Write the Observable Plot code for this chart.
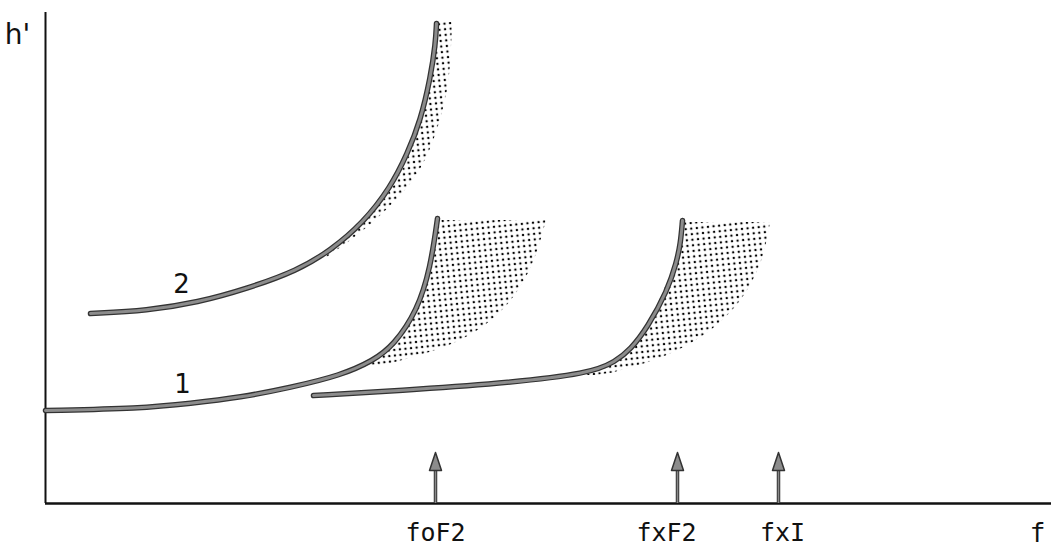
<!DOCTYPE html>
<html>
<head>
<meta charset="utf-8">
<script src="https://cdn.jsdelivr.net/npm/d3@7"></script>
<script src="https://cdn.jsdelivr.net/npm/@observablehq/plot@0.6"></script>
<style>
  html, body { margin: 0; padding: 0; background: #fff; }
  #chart { width: 1051px; height: 549px; }
</style>
</head>
<body>
<div id="chart"></div>
<script>
// Trace 2 (upper F2 trace)
const trace2X = [45, 102, 152, 202, 252, 285, 318, 345, 362, 375, 385, 390, 391];
const trace2Y = [190, 193, 201, 215, 233, 253, 281, 316, 350, 383, 426, 460, 480];
// Trace 1 (ordinary F2 trace)
const trace1X = [0, 95, 145, 195, 245, 295, 328, 348, 372, 385, 392];
const trace1Y = [93, 95, 100, 106, 116, 128, 143, 158, 193, 236, 285];
// Extraordinary trace
const traceXX = [268, 355, 455, 545, 570, 585, 602, 622, 631, 635, 637];
const traceXY = [108, 113, 120, 130, 142, 154, 176, 213, 241, 260, 283];

// Spread (stippled) regions: height, left edge, right edge
const spread2Y  = [245, 273, 300, 326, 360, 393, 426, 481];
const spread2X1 = [272, 310, 337, 355, 369, 379, 385, 390];
const spread2X2 = [280, 320, 348, 372, 388, 398, 405, 407];

const spread1Y  = [138, 146, 156, 173, 196, 226, 253, 283];
const spread1X1 = [317, 335, 347, 359, 373, 382, 388, 392];
const spread1X2 = [338, 368, 402, 435, 462, 482, 493, 501];

const spreadXY  = [128, 130, 133, 140, 153, 173, 200, 230, 253, 281];
const spreadXX1 = [535, 545, 557, 569, 585, 600, 613, 626, 633, 637];
const spreadXX2 = [550, 568, 575, 602, 635, 668, 695, 712, 720, 725];

// Critical frequency markers
const markerNames = ["foF2", "fxF2", "fxI"];
const markerX     = [390, 632, 733];
const markerLabelX = [390, 621, 737];

// Trace number labels
const traceLabels = ["2", "1"];
const traceLabelX = [136, 137];
const traceLabelY = [211, 111];

const pts = (xs, ys) => xs.map((x, i) => ({x, y: ys[i]}));
const band = (ys, x1s, x2s) => ys.map((y, i) => ({y, x1: x1s[i], x2: x2s[i]}));

const traces = [pts(trace2X, trace2Y), pts(trace1X, trace1Y), pts(traceXX, traceXY)];
const spreads = [band(spread2Y, spread2X1, spread2X2), band(spread1Y, spread1X1, spread1X2), band(spreadXY, spreadXX1, spreadXX2)];
const markers = markerNames.map((n, i) => ({name: n, x: markerX[i], lx: markerLabelX[i]}));
const tlabels = traceLabels.map((t, i) => ({t, x: traceLabelX[i], y: traceLabelY[i]}));

const headShape = {
  draw(context, l) {
    context.moveTo(-6, 0);
    context.lineTo(0, -l);
    context.lineTo(6, 0);
    context.closePath();
  }
};

const font = "DejaVu Sans";
const mono = "DejaVu Sans Mono";
const marks = [];
for (const s of spreads) {
  marks.push(Plot.areaX(s, {y: "y", x1: "x1", x2: "x2", fill: "url(#stip)", curve: "basis"}));
}
marks.push(Plot.ruleX([0], {y1: 0, y2: 491, stroke: "#111", strokeWidth: 2}));
marks.push(Plot.ruleY([0], {x1: 0, x2: 1006, stroke: "#111", strokeWidth: 2.5}));
for (const t of traces) {
  marks.push(Plot.line(t, {x: "x", y: "y", stroke: "#333", strokeWidth: 5.5, curve: "basis", strokeLinecap: "round"}));
  marks.push(Plot.line(t, {x: "x", y: "y", stroke: "#8c8c8c", strokeWidth: 3, curve: "basis", strokeLinecap: "round"}));
}
marks.push(Plot.ruleX(markers, {x: "x", y1: 0, y2: 34, stroke: "#333", strokeWidth: 3.5}));
marks.push(Plot.ruleX(markers, {x: "x", y1: 0, y2: 34, stroke: "#888", strokeWidth: 1.5}));
marks.push(Plot.vector(markers, {x: "x", y: 33, length: 18, rotate: 0, anchor: "start", shape: headShape, fill: "#8c8c8c", stroke: "#333", strokeWidth: 1.5}));
marks.push(Plot.text(markers, {x: "lx", y: -37, text: "name", fontSize: 25, fontFamily: mono, fill: "#111", textAnchor: "middle", lineAnchor: "bottom"}));
marks.push(Plot.text(["f"], {x: 992, y: -38, text: d => d, fontSize: 26, fontFamily: mono, fill: "#111", lineAnchor: "bottom"}));
marks.push(Plot.text(["h'"], {x: -28, y: 460, text: d => d, fontSize: 28, fontFamily: font, fill: "#111", lineAnchor: "bottom"}));
marks.push(Plot.text(tlabels, {x: "x", y: "y", text: "t", fontSize: 26, fontFamily: font, fill: "#111", lineAnchor: "bottom"}));

const svg = Plot.plot({
  width: 1051,
  height: 549,
  marginLeft: 45,
  marginRight: 0,
  marginTop: 12,
  marginBottom: 46,
  x: {domain: [0, 1006], axis: null},
  y: {domain: [0, 491], axis: null},
  style: {background: "#fff", overflow: "visible"},
  marks
});

const defs = d3.select(svg).insert("defs", ":first-child");
const pat = defs.append("pattern")
  .attr("id", "stip")
  .attr("patternUnits", "userSpaceOnUse")
  .attr("width", 5.6)
  .attr("height", 5.6)
  .attr("patternTransform", "rotate(-6)");
pat.append("circle").attr("cx", 2.8).attr("cy", 2.8).attr("r", 1.2).attr("fill", "#000");

document.getElementById("chart").appendChild(svg);
</script>
</body>
</html>
